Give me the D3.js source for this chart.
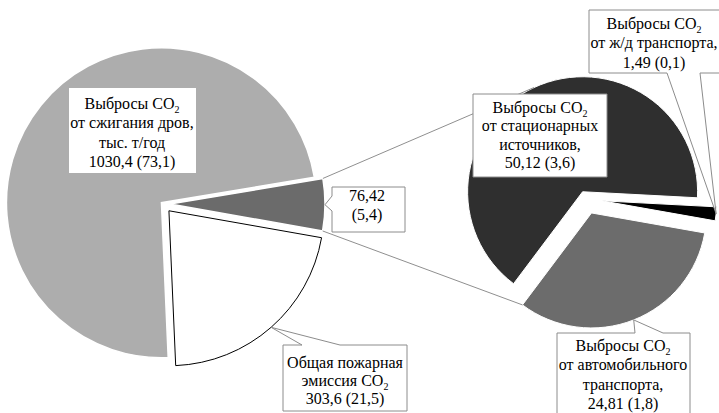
<!DOCTYPE html>
<html><head><meta charset="utf-8">
<script src="https://cdn.jsdelivr.net/npm/d3@7"></script>
<style>
html,body{margin:0;padding:0;background:#fff;}
svg{display:block;}
</style></head>
<body>
<svg id="chart" width="719" height="413"></svg>
<script>
// ---- data ----
const mainCategories = ["Выбросы CO₂ от сжигания дров", "Прочие выбросы CO₂", "Общая пожарная эмиссия CO₂"];
const mainValues = [1030.4, 76.42, 303.6];
const mainPercents = [73.1, 5.4, 21.5];
const subCategories = ["Выбросы CO₂ от стационарных источников", "Выбросы CO₂ от ж/д транспорта", "Выбросы CO₂ от автомобильного транспорта"];
const subValues = [50.12, 1.49, 24.81];
const subPercents = [3.6, 0.1, 1.8];

// ---- style / layout ----
const FONT = "'Liberation Serif', 'Times New Roman', serif";
const mainColors = ["#adadad", "#6b6b6b", "#ffffff"];
const subColors = ["#2f2f2f", "#000000", "#6c6c6c"];
const deg = Math.PI / 180;
const leftC = [163, 204], leftR = 155, leftStart = 177.5, leftExplode = [2, 7, 9];
const rightC = [586, 199], rightR = 115, rightStart = 216.9, rightExplode = [8, 16, 15];

const fmt = v => String(v).replace(".", ",");
const svg = d3.select("#chart");

function layout(values, start, C, explode) {
  const pie = d3.pie().sort(null).value(d => d)
    .startAngle(start * deg).endAngle(start * deg + 2 * Math.PI);
  return pie(values).map((a, i) => {
    const mid = (a.startAngle + a.endAngle) / 2;
    return Object.assign(a, {
      cx: C[0] + explode[i] * Math.sin(mid),
      cy: C[1] - explode[i] * Math.cos(mid),
      mid
    });
  });
}
const pt = (s, ang, r) => [s.cx + r * Math.sin(ang), s.cy - r * Math.cos(ang)];

const leftSlices = layout(mainValues, leftStart, leftC, leftExplode);
const rightSlices = layout(subValues, rightStart, rightC, rightExplode);

const arcL = d3.arc().innerRadius(0).outerRadius(leftR);
const arcR = d3.arc().innerRadius(0).outerRadius(rightR);

svg.append("g").selectAll("path").data(leftSlices).join("path")
  .attr("transform", d => `translate(${d.cx},${d.cy})`)
  .attr("d", arcL)
  .attr("fill", (d, i) => mainColors[i])
  .attr("stroke", (d, i) => i === 2 ? "#000" : "#fff")
  .attr("stroke-width", (d, i) => i === 2 ? 1 : 1.5)
  .attr("stroke-linejoin", "miter");

svg.append("g").selectAll("path").data(rightSlices).join("path")
  .attr("transform", d => `translate(${d.cx},${d.cy})`)
  .attr("d", arcR)
  .attr("fill", (d, i) => subColors[i])
  .attr("stroke", "#fff").attr("stroke-width", 1);

// connector lines (pie of pie)
const other = leftSlices[1];
const p1 = pt(other, other.startAngle, leftR), p2 = pt(other, other.endAngle, leftR);
const q1 = pt(rightSlices[0], rightSlices[0].mid, rightR);
const q2 = pt(rightSlices[2], rightSlices[2].endAngle, rightR);
svg.append("g").attr("stroke", "#8f8f8f").attr("stroke-width", 1).attr("fill", "none")
  .selectAll("line").data([[p1, q1], [p2, q2]]).join("line")
  .attr("x1", d => d[0][0]).attr("y1", d => d[0][1])
  .attr("x2", d => d[1][0]).attr("y2", d => d[1][1]);

// ---- labels ----
const labels = [
  { lines: ["Выбросы CO₂", "от сжигания дров,", "тыс. т/год", `${fmt(mainValues[0])} (${fmt(mainPercents[0])})`],
    box: [69, 88, 196, 173], cx: 132, y0: 108.5, lh: 19.5, border: false },
  { lines: [fmt(mainValues[1]), `(${fmt(mainPercents[1])})`],
    box: [332, 187, 405, 232], cx: 367, y0: 201, lh: 18.5, border: true,
    ptr: { side: "left", b: [196, 211], slice: leftSlices[1], r: leftR } },
  { lines: ["Общая пожарная", "эмиссия CO₂", `${fmt(mainValues[2])} (${fmt(mainPercents[2])})`],
    box: [283, 345, 407, 411], cx: 345, y0: 367.5, lh: 18, border: true,
    ptr: { side: "top", b: [302, 340], slice: leftSlices[2], r: leftR } },
  { lines: ["Выбросы CO₂", "от стационарных", "источников,", `${fmt(subValues[0])} (${fmt(subPercents[0])})`],
    box: [473, 94, 607, 177], cx: 540, y0: 112.5, lh: 18.5, border: true },
  { lines: ["Выбросы CO₂", "от ж/д транспорта,", `${fmt(subValues[1])} (${fmt(subPercents[1])})`],
    box: [589, 10, 730, 73], cx: 654, y0: 28.5, lh: 19.5, border: true,
    ptr: { side: "bottom", b: [667, 700], slice: rightSlices[1], r: rightR } },
  { lines: ["Выбросы CO₂", "от автомобильного", "транспорта,", `${fmt(subValues[2])} (${fmt(subPercents[2])})`],
    box: [557, 333, 690, 430], cx: 623, y0: 350.5, lh: 19.5, border: true,
    ptr: { side: "top", b: [635, 663], slice: rightSlices[2], r: rightR } }
];

function boxPath(L) {
  const [x0, y0, x1, y1] = L.box;
  if (!L.ptr) return `M${x0},${y0}H${x1}V${y1}H${x0}Z`;
  const t = pt(L.ptr.slice, L.ptr.slice.mid, L.ptr.r);
  const [b0, b1] = L.ptr.b;
  if (L.ptr.side === "top")
    return `M${x0},${y0}H${b0}L${t[0]},${t[1]}L${b1},${y0}H${x1}V${y1}H${x0}Z`;
  if (L.ptr.side === "bottom")
    return `M${x0},${y0}H${x1}V${y1}H${b1}L${t[0]},${t[1]}L${b0},${y1}H${x0}Z`;
  return `M${x0},${y0}H${x1}V${y1}H${x0}V${b1}L${t[0]},${t[1]}L${x0},${b0}Z`;
}

const lg = svg.append("g");
labels.forEach(L => {
  lg.append("path").attr("d", boxPath(L))
    .attr("fill", "#fff")
    .attr("stroke", L.border ? "#8c8c8c" : "none")
    .attr("stroke-width", 1);
  L.lines.forEach((line, k) => {
    const t = lg.append("text")
      .attr("x", L.cx).attr("y", L.y0 + k * L.lh)
      .attr("text-anchor", "middle")
      .attr("font-family", FONT).attr("font-size", 16).attr("fill", "#000");
    const idx = line.indexOf("CO₂");
    if (idx >= 0) {
      t.append("tspan").text(line.slice(0, idx) + "CO");
      t.append("tspan").attr("font-size", 10).attr("dy", 4).text("2");
      const rest = line.slice(idx + 3);
      if (rest) t.append("tspan").attr("dy", -4).text(rest);
    } else {
      t.text(line);
    }
  });
});
</script>
</body></html>
